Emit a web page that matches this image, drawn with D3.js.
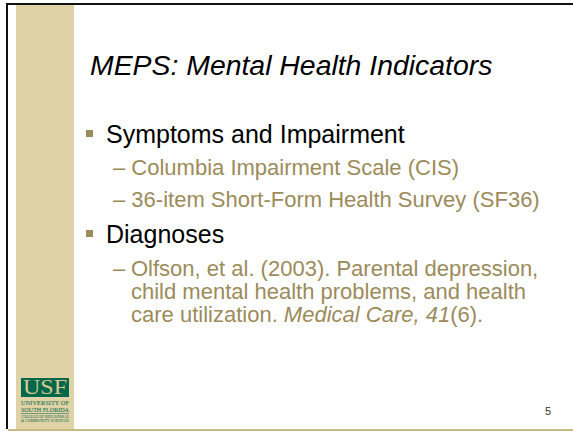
<!DOCTYPE html>
<html>
<head>
<meta charset="utf-8">
<script src="https://cdn.jsdelivr.net/npm/d3@7"></script>
<style>
  html, body { margin: 0; padding: 0; background: #fff; }
  svg { display: block; font-family: "Liberation Sans", Arial, sans-serif; }
</style>
</head>
<body>
<script>
"use strict";

// slide text
var title = "MEPS: Mental Health Indicators";
var bullets = ["Symptoms and Impairment", "Diagnoses"];
var subItems1 = ["Columbia Impairment Scale (CIS)", "36-item Short-Form Health Survey (SF36)"];
var citeLines = [
  [{t: "Olfson, et al. (2003). Parental depression,"}],
  [{t: "child mental health problems, and health"}],
  [{t: "care utilization. "}, {t: "Medical Care, 41", i: true}, {t: "(6)."}]
];
var logoLines = ["UNIVERSITY OF", "SOUTH FLORIDA"];
var logoSmall = ["COLLEGE OF BEHAVIORAL", "& COMMUNITY SCIENCES"];
var pageNumber = "5";

var width = 573, height = 432;
var tan = "#e0d2a7", gold = "#9c8b5b", green = "#00674a";

var svg = d3.select("body").append("svg")
    .attr("width", width)
    .attr("height", height);

// frame
svg.append("rect").attr("x", 16).attr("y", 5).attr("width", 58).attr("height", 424).attr("fill", tan);
svg.append("rect").attr("x", 6).attr("y", 3).attr("width", width - 6).attr("height", 2).attr("fill", "#111");
svg.append("rect").attr("x", 6).attr("y", 3).attr("width", 2).attr("height", 426).attr("fill", "#111");
svg.append("rect").attr("x", 8).attr("y", 429).attr("width", width - 8).attr("height", 2).attr("fill", "#cbb985");

// title
svg.append("text")
    .attr("x", 90).attr("y", 75)
    .style("font-size", "28.4px")
    .style("font-style", "italic")
    .attr("fill", "#000")
    .text(title);

// level-1 bullets
var bulletY = [143, 243];
svg.selectAll(".b1").data(bullets).enter().append("g")
  .attr("class", "b1")
  .each(function(d, i) {
    var g = d3.select(this);
    g.append("rect").attr("x", 86).attr("y", bulletY[i] - 13).attr("width", 7).attr("height", 7).attr("fill", gold);
    g.append("text").attr("x", 106).attr("y", bulletY[i])
      .style("font-size", "25px").attr("fill", "#000").text(d);
  });

// level-2 items
var subY = [175, 207];
svg.selectAll(".b2").data(subItems1).enter().append("text")
    .attr("class", "b2")
    .attr("x", 113).attr("y", function(d, i) { return subY[i]; })
    .style("font-size", "22px").attr("fill", gold)
    .text(function(d) { return "\u2013 " + d; });

var citeY = [276, 299, 322];
svg.append("text").attr("x", 113).attr("y", citeY[0])
    .style("font-size", "22px").attr("fill", gold).text("\u2013");
svg.selectAll(".cite").data(citeLines).enter().append("text")
    .attr("class", "cite")
    .attr("x", 131).attr("y", function(d, i) { return citeY[i]; })
    .style("font-size", "22px").attr("fill", gold)
  .selectAll("tspan").data(function(d) { return d; }).enter().append("tspan")
    .style("font-style", function(d) { return d.i ? "italic" : "normal"; })
    .attr("xml:space", "preserve")
    .text(function(d) { return d.t; });

// logo
var logo = svg.append("g");
logo.append("rect").attr("x", 21).attr("y", 378).attr("width", 48).attr("height", 19).attr("fill", green);
logo.append("text").attr("x", 23).attr("y", 394)
    .attr("textLength", 44).attr("lengthAdjust", "spacingAndGlyphs")
    .style("font-family", "'Liberation Serif', serif").style("font-size", "20px")
    .attr("fill", "#d8c88f").text("USF");
logo.selectAll(".ll").data(logoLines).enter().append("text")
    .attr("x", 21).attr("y", function(d, i) { return 405 + i * 7; })
    .attr("textLength", 48).attr("lengthAdjust", "spacingAndGlyphs")
    .style("font-family", "'Liberation Serif', serif").style("font-size", "6px")
    .attr("fill", green).text(function(d) { return d; });
logo.append("line").attr("x1", 21).attr("x2", 69).attr("y1", 413.5).attr("y2", 413.5)
    .attr("stroke", green).attr("stroke-width", 0.5);
logo.selectAll(".ls").data(logoSmall).enter().append("text")
    .attr("x", 21).attr("y", function(d, i) { return 418 + i * 3.5; })
    .attr("textLength", 48).attr("lengthAdjust", "spacingAndGlyphs")
    .style("font-family", "'Liberation Serif', serif").style("font-size", "3px")
    .attr("fill", green).text(function(d) { return d; });

// page number
svg.append("text").attr("x", 548).attr("y", 415).attr("text-anchor", "middle")
    .style("font-size", "11px").attr("fill", "#333").text(pageNumber);
</script>
</body>
</html>
